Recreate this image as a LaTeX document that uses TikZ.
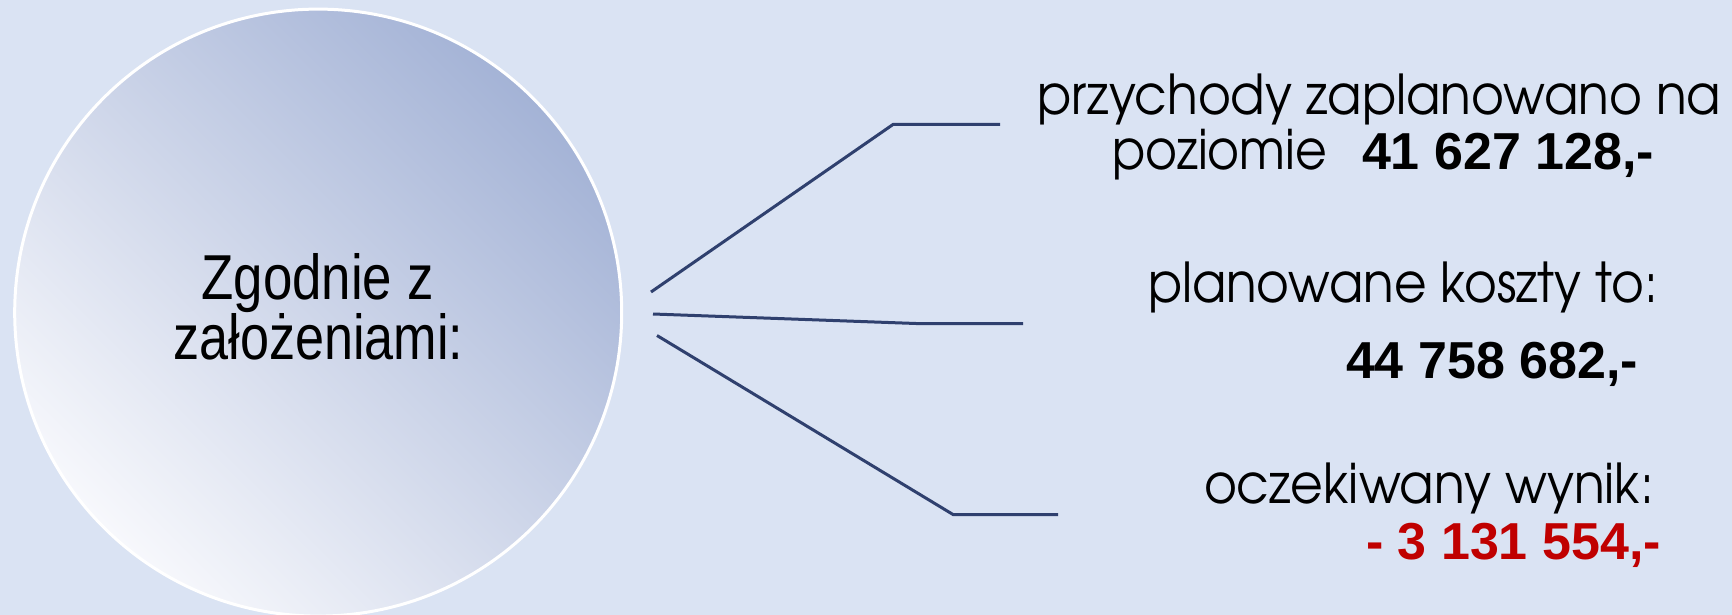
\documentclass[tikz,border=0pt]{standalone}
\usepackage{fontspec}
\setmainfont{Liberation Sans}
\newfontfamily\cg{texgyreadventor-regular.otf}
\definecolor{bgc}{RGB}{218,227,243}
\definecolor{linec}{RGB}{47,64,110}
\definecolor{circA}{RGB}{164,179,214}
\definecolor{circB}{RGB}{247,248,252}
\definecolor{redc}{RGB}{192,0,0}
\newcommand{\cgtext}[2]{\resizebox{#1pt}{\height}{\cg\fontsize{55}{60}\selectfont #2}}
\newcommand{\cirtext}[2]{\resizebox{#1pt}{\height}{\fontsize{63.5}{70}\selectfont #2}}
\tikzset{
  conn/.style={draw=linec, line width=3pt},
  txt/.style={anchor=base west, inner sep=0pt, outer sep=0pt},
  bignum/.style={txt, font=\fontsize{52}{57}\selectfont\bfseries},
  ctext/.style={anchor=base, inner sep=0pt}
}
\begin{document}
\begin{tikzpicture}[x=1pt,y=-1pt]
\fill[bgc] (0,0) rectangle (1732,615);
\useasboundingbox (0,0) rectangle (1732,615);
\node[circle, minimum size=607pt, inner sep=0pt, draw=white, line width=3pt,
      top color=circA, bottom color=circB, shading angle=-45] (c) at (318.2,312.6) {};
\node[ctext] (ct1) at (317.5,299) {\cirtext{232}{Zgodnie z}};
\node[ctext] (ct2) at (318.5,359.5) {\cirtext{290}{założeniami:}};
% connectors
\coordinate (a1) at (651,292);
\coordinate (a2) at (893,124.5);
\coordinate (a3) at (1000,124.5);
\coordinate (b1) at (653,314);
\coordinate (b2) at (916,323.5);
\coordinate (b3) at (1023,323.5);
\coordinate (d1) at (657,335.5);
\coordinate (d2) at (953,514.5);
\coordinate (d3) at (1058,514.5);
\draw[conn] (a1) -- (a2) -- (a3);
\draw[conn] (b1) -- (b2) -- (b3);
\draw[conn] (d1) -- (d2) -- (d3);
% texts
\node[txt] (t1) at (1037,115) {\cgtext{684}{przychody zaplanowano na}};
\node[txt] (t2) at (1112,170) {\cgtext{215}{poziomie}};
\node[bignum] (n1) at (1362,169) {41 627 128,-};
\node[txt] (t3) at (1148,302.5) {\cgtext{510}{planowane koszty to:}};
\node[bignum] (n2) at (1346,378) {44 758 682,-};
\node[txt] (t4) at (1204,503.5) {\cgtext{450}{oczekiwany wynik:}};
\node[bignum, text=redc] (n3) at (1366,559) {- 3 131 554,-};
\end{tikzpicture}
\end{document}
